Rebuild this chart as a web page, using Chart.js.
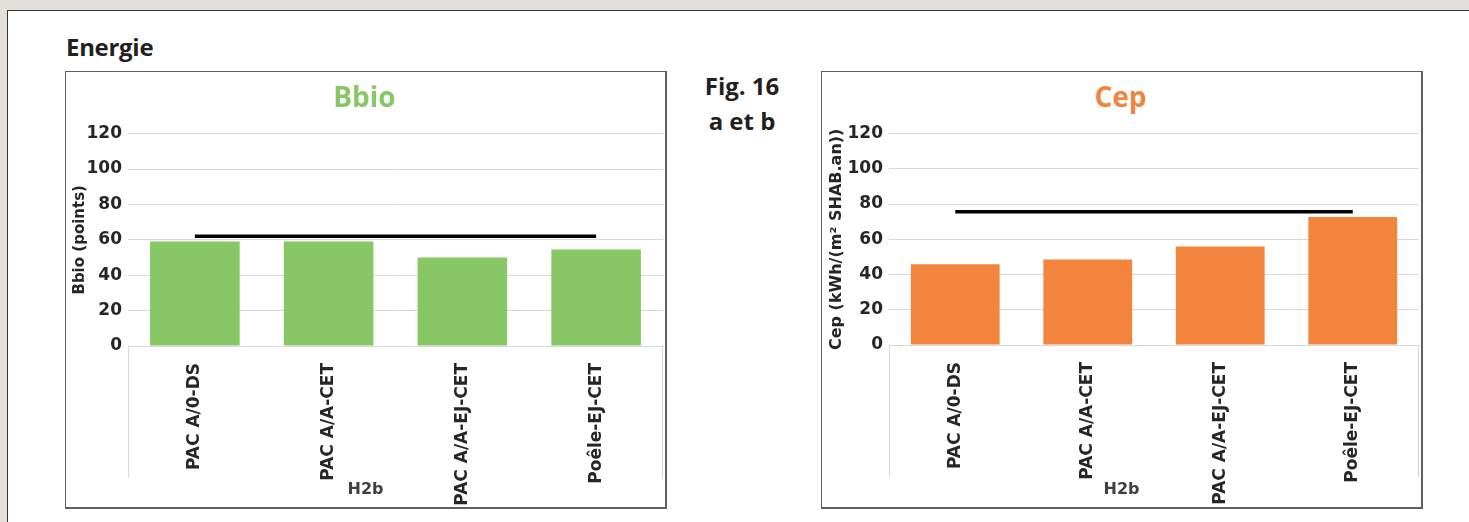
<!DOCTYPE html>
<html>
<head>
<meta charset="utf-8">
<script src="https://cdn.jsdelivr.net/npm/chart.js@4.4.1/dist/chart.umd.min.js"></script>
<style>
  html, body { margin: 0; padding: 0; width: 1469px; height: 522px; overflow: hidden; background: #fff; }
  #frame { position: absolute; left: 0; top: 0; width: 1469px; height: 522px; background: #e3dfdb; }
  #panel { position: absolute; left: 7px; top: 10px; right: 0; bottom: 0; background: #fff; border-left: 1px solid #333; border-top: 1px solid #333; }
  .txt { position: absolute; font-family: "Open Sans", sans-serif; color: #231f20; }
  #energie { left: 66px; top: 31px; font-size: 24px; font-weight: 700; line-height: 32px; letter-spacing: -0.3px; }
  #fig { left: 688px; top: 68px; width: 108px; text-align: center; font-size: 24px; font-weight: 700; line-height: 35px; }
  .box { position: absolute; top: 71px; width: 599px; height: 435px; border: 1px solid #5f5f5f; border-right-width: 2px; border-bottom-width: 2px; background: #fff; }
  .box canvas { display: block; }
</style>
</head>
<body>
<div id="frame"><div id="panel"></div></div>
<div class="txt" id="energie">Energie</div>
<div class="txt" id="fig">Fig. 16<br>a et b</div>
<div class="box" style="left:65px;"><canvas id="c1" width="599" height="435"></canvas></div>
<div class="box" style="left:821px;"><canvas id="c2" width="599" height="435"></canvas></div>
<script>
const categories = ['PAC A/0-DS', 'PAC A/A-CET', 'PAC A/A-EJ-CET', 'Poêle-EJ-CET'];
const groupLabel = 'H2b';
const yTickValues = [0, 20, 40, 60, 80, 100, 120];
const bbioValues = [59, 59, 50, 54.5];
const bbioMaxLine = [62, 62, 62, 62];
const cepValues = [45.8, 48.6, 55.9, 72.7];
const cepMaxLine = [75.6, 75.6, 75.6, 75.6];

const FONT = "'DejaVu Sans', sans-serif";

const boxPlugin = {
  id: 'catBox',
  afterDraw(chart) {
    const ctx = chart.ctx, a = chart.chartArea;
    ctx.save();
    ctx.strokeStyle = '#d9d9d9';
    ctx.lineWidth = 1;
    ctx.beginPath();
    ctx.moveTo(Math.round(a.left) + 0.5, a.bottom);
    ctx.lineTo(Math.round(a.left) + 0.5, a.bottom + 132);
    ctx.moveTo(Math.round(a.right) - 0.5, a.bottom);
    ctx.lineTo(Math.round(a.right) - 0.5, a.bottom + 132);
    ctx.stroke();
    ctx.fillStyle = '#404040';
    ctx.font = 'bold 16px ' + FONT;
    ctx.textAlign = 'center';
    ctx.textBaseline = 'middle';
    ctx.fillText(groupLabel, chart.width / 2, 418);
    ctx.restore();
  }
};

function makeChart(id, values, lineVals, color, titleText, yTitle, yTitleSize, yWidth, xHeight) {
  return new Chart(document.getElementById(id), {
    data: {
      labels: categories,
      datasets: [
        { type: 'line', data: lineVals, borderColor: '#000', borderWidth: 3.5, pointRadius: 0, fill: false, order: 0 },
        { type: 'bar', data: values, backgroundColor: color, barPercentage: 0.67, categoryPercentage: 1, order: 1 }
      ]
    },
    options: {
      responsive: false,
      animation: false,
      events: [],
      layout: { padding: { left: 0, right: 2, top: 0, bottom: 0 } },
      plugins: {
        legend: { display: false },
        tooltip: { enabled: false },
        title: {
          display: true, text: titleText, color: color,
          font: { family: "'Open Sans', sans-serif", size: 28, weight: 'bold', lineHeight: 1.2 },
          padding: { top: 10, bottom: 18 }
        }
      },
      scales: {
        x: {
          offset: true,
          grid: { display: false, drawTicks: false },
          border: { display: true, color: '#d9d9d9', width: 1 },
          ticks: { minRotation: 90, maxRotation: 90, autoSkip: false, padding: 17, color: '#262626', font: { family: FONT, size: 17, weight: 'bold' } },
          afterFit(s) { s.height = xHeight; }
        },
        y: {
          min: 0, max: 120,
          afterBuildTicks(s) { s.ticks = yTickValues.map(v => ({ value: v })); },
          grid: { color: '#d9d9d9', lineWidth: 1, drawTicks: false },
          border: { display: false },
          ticks: { padding: 6, color: '#262626', font: { family: FONT, size: 17, weight: 'bold' } },
          title: { display: true, text: yTitle, color: '#262626', padding: { top: 5, bottom: 0 }, font: { family: FONT, size: yTitleSize, weight: 'bold', lineHeight: 1.2 } },
          afterFit(s) { s.width = yWidth; }
        }
      }
    },
    plugins: [boxPlugin]
  });
}

makeChart('c1', bbioValues, bbioMaxLine, '#88c765', 'Bbio', 'Bbio (points)', 15, 62, 161);
makeChart('c2', cepValues, cepMaxLine, '#f2843e', 'Cep', 'Cep (kWh/(m² SHAB.an))', 16, 67, 162);
</script>
</body>
</html>
